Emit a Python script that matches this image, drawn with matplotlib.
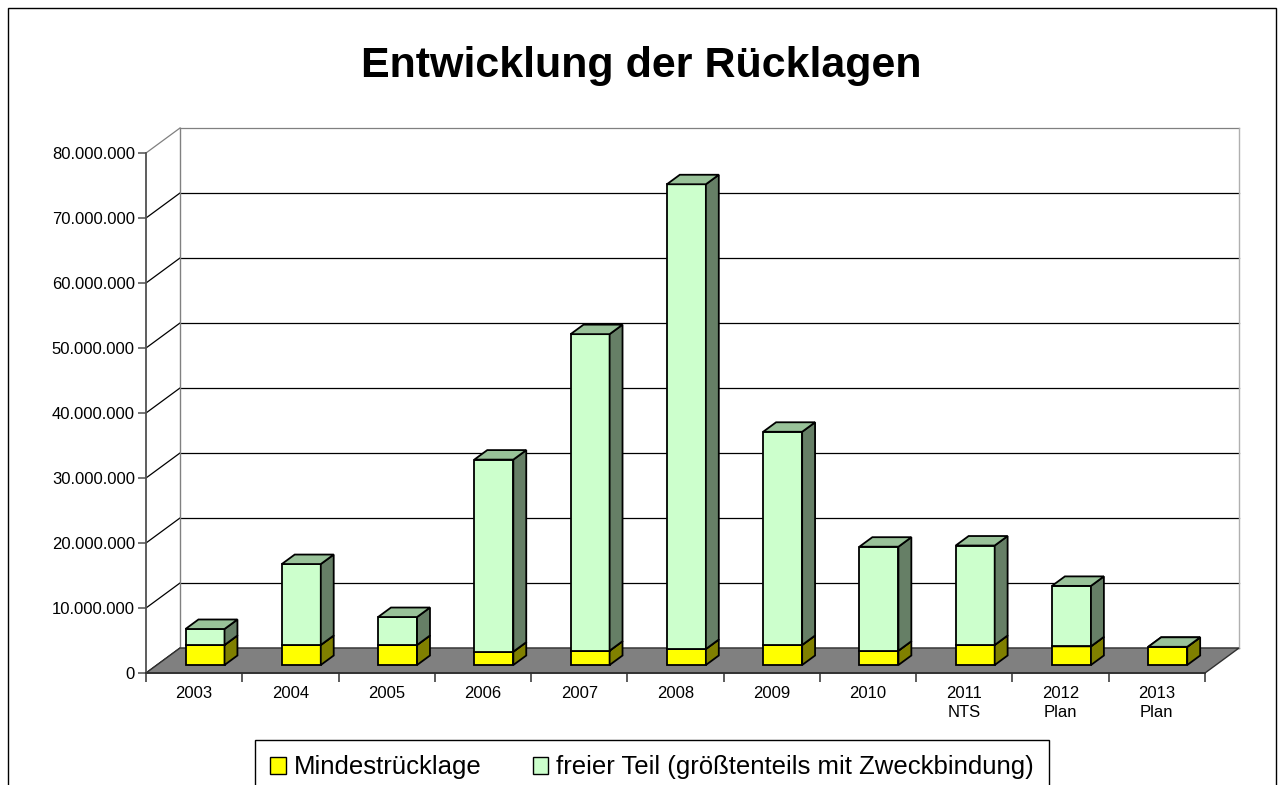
import matplotlib
matplotlib.use("Agg")
import matplotlib.pyplot as plt
from matplotlib.patches import Polygon, Rectangle, Patch
from matplotlib.ticker import FixedLocator, FuncFormatter

plt.rcParams['font.family'] = ['Liberation Sans', 'DejaVu Sans']

# ---- data ----
categories = ["2003", "2004", "2005", "2006", "2007", "2008", "2009",
              "2010", "2011\nNTS", "2012\nPlan", "2013\nPlan"]
mindest = [3.08e6, 3.08e6, 3.08e6, 2.05e6, 2.2e6, 2.46e6, 3.08e6,
           2.2e6, 3.08e6, 2.87e6, 2.8e6]
frei = [2.46e6, 12.45e6, 4.3e6, 29.55e6, 48.7e6, 71.5e6, 32.8e6,
        16.0e6, 15.3e6, 9.3e6, 0.0]
series_names = ["Mindestrücklage", "freier Teil (größtenteils mit Zweckbindung)"]
yticks = [0, 10e6, 20e6, 30e6, 40e6, 50e6, 60e6, 70e6, 80e6]
title = "Entwicklung der Rücklagen"

# colours: (front, side, top)
yellow = ("#FFFF00", "#808000", "#FFFF00")
green = ("#CCFFCC", "#667F66", "#99C299")

W, H = 1283, 785
fig = plt.figure(figsize=(W / 100, H / 100), dpi=100)
fig.patch.set_facecolor("white")

n = len(categories)
ymax = 80e6
ax = fig.add_axes([146 / W, (H - 673) / H, 1059 / W, 520 / H])
ax.set_xlim(0, n)
ax.set_ylim(0, ymax)
ax.patch.set_alpha(0)

# oblique depth (data units)
DX = 34 / 1059 * n
DY = 25 / 520 * ymax

# back wall grid + left wall diagonals
for v in yticks:
    col = "#808080" if v == ymax else "black"
    ax.plot([DX, n + DX], [v + DY, v + DY], color=col, lw=0.9, clip_on=False, zorder=1)
    ax.plot([0, DX], [v, v + DY], color=col, lw=0.9, clip_on=False, zorder=1)
ax.plot([DX, DX], [DY, ymax + DY], color="#808080", lw=1.0, clip_on=False, zorder=1)
ax.plot([n + DX, n + DX], [DY, ymax + DY], color="#B0B0B0", lw=1.0, clip_on=False, zorder=1)

# floor
ax.add_patch(Polygon([(0, 0), (n, 0), (n + DX, DY), (DX, DY)], closed=True,
                     facecolor="#808080", edgecolor="#303030", lw=1.0,
                     clip_on=False, zorder=2))

# bars
bw = 0.405
f0, f1 = 0.32, 0.70


def box(xc, y0, y1, cols):
    xl, xr = xc - bw / 2, xc + bw / 2
    ox0, oy0 = f0 * DX, f0 * DY
    ox1, oy1 = f1 * DX, f1 * DY
    kw = dict(closed=True, edgecolor="black", lw=1.3, clip_on=False, zorder=3,
              joinstyle="miter")
    ax.add_patch(Polygon([(xl + ox0, y0 + oy0), (xr + ox0, y0 + oy0),
                          (xr + ox0, y1 + oy0), (xl + ox0, y1 + oy0)],
                         facecolor=cols[0], **kw))
    ax.add_patch(Polygon([(xr + ox0, y0 + oy0), (xr + ox1, y0 + oy1),
                          (xr + ox1, y1 + oy1), (xr + ox0, y1 + oy0)],
                         facecolor=cols[1], **kw))
    ax.add_patch(Polygon([(xl + ox0, y1 + oy0), (xr + ox0, y1 + oy0),
                          (xr + ox1, y1 + oy1), (xl + ox1, y1 + oy1)],
                         facecolor=cols[2], **kw))


for i in range(n):
    c = i + 0.5
    box(c, 0, mindest[i], yellow)
    box(c, mindest[i], mindest[i] + frei[i], green)

# axes styling
for s in ["top", "right"]:
    ax.spines[s].set_visible(False)
ax.spines["left"].set_color("#505050")
ax.spines["left"].set_linewidth(1.3)
ax.spines["bottom"].set_color("#303030")
ax.spines["bottom"].set_linewidth(1.3)
ax.spines["left"].set_zorder(4)
ax.spines["bottom"].set_zorder(4)

ax.yaxis.set_major_locator(FixedLocator(yticks))
ax.yaxis.set_major_formatter(FuncFormatter(lambda v, p: f"{int(round(v)):,}".replace(",", ".")))
ax.tick_params(axis="y", length=6, width=1.1, color="#505050", pad=2,
               labelsize=12, labelcolor="black")

ax.xaxis.set_major_locator(FixedLocator(range(n + 1)))
ax.xaxis.set_minor_locator(FixedLocator([i + 0.5 for i in range(n)]))
ax.set_xticklabels([], minor=False)
ax.set_xticklabels(categories, minor=True)
ax.tick_params(axis="x", which="major", length=6.5, width=1.1, color="#303030")
ax.tick_params(axis="x", which="minor", length=0, pad=9, labelsize=12)
for lab in ax.get_xticklabels(minor=True):
    lab.set_linespacing(1.35)

# title
fig.text(0.5, 1 - 66 / H, title, ha="center", va="center", fontsize=31,
         fontweight="bold")

# outer frame
fig.patches.append(Rectangle((8 / W, -0.05), (1276 - 8) / W, (H - 8) / H + 0.05,
                             transform=fig.transFigure, fill=False,
                             edgecolor="black", lw=1.0))

# legend
handles = [Patch(facecolor=yellow[0], edgecolor="black", lw=1.0),
           Patch(facecolor=green[0], edgecolor="black", lw=1.0)]
leg = fig.legend(handles, series_names, loc="upper left",
                 bbox_to_anchor=(255 / W, 1 - 740 / H), ncol=2, frameon=True,
                 fancybox=False, edgecolor="black", framealpha=1, fontsize=18.5,
                 handlelength=0.6, handleheight=0.6, handletextpad=0.3,
                 columnspacing=2.0, borderpad=0.6, borderaxespad=0)
leg.get_frame().set_linewidth(1.0)

fig.savefig("out.png", dpi=100)
